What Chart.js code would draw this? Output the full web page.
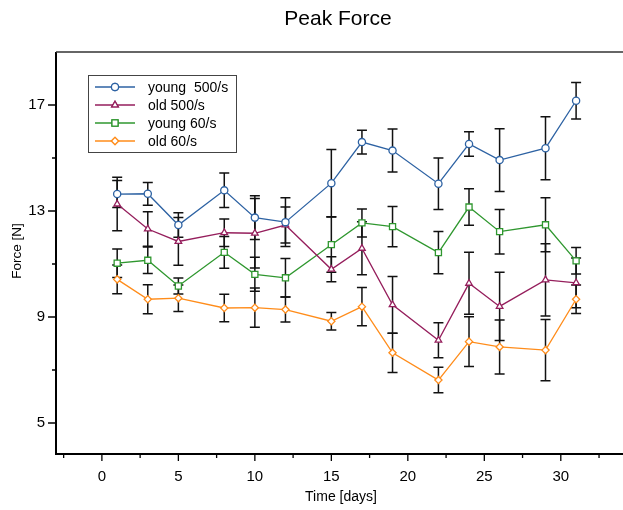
<!DOCTYPE html>
<html>
<head>
<meta charset="utf-8">
<title>Peak Force</title>
<script src="https://cdn.jsdelivr.net/npm/chart.js@4.4.1/dist/chart.umd.min.js"></script>
<style>
  html, body { margin: 0; padding: 0; background: #fff; }
  #wrap { width: 623px; height: 510px; }
</style>
</head>
<body>
<div id="wrap"><canvas id="chart" width="623" height="510"></canvas></div>
<script>
// measurement days (x values)
const days = [1, 3, 5, 8, 10, 12, 15, 17, 19, 22, 24, 26, 29, 31];

// means and error bar half-lengths
const young500    = [13.64, 13.65, 12.47, 13.78, 12.75, 12.58, 14.05, 15.60, 15.28, 14.03, 15.53, 14.92, 15.37, 17.16];
const young500Err = [0.51, 0.43, 0.46, 0.65, 0.83, 0.92, 1.27, 0.45, 0.81, 0.97, 0.46, 1.18, 1.19, 0.69];
const old500      = [13.26, 12.32, 11.85, 12.18, 12.16, 12.47, 10.80, 11.59, 9.46, 8.12, 10.27, 9.40, 10.40, 10.29];
const old500Err   = [1.01, 0.65, 0.90, 0.52, 1.31, 0.68, 0.47, 1.00, 1.07, 0.66, 1.17, 1.29, 1.36, 0.94];
const young60     = [11.03, 11.14, 10.17, 11.44, 10.61, 10.48, 11.73, 12.55, 12.41, 11.43, 13.15, 12.22, 12.48, 11.12];
const young60Err  = [0.54, 0.50, 0.30, 0.60, 0.64, 0.73, 1.04, 0.53, 0.76, 0.80, 0.69, 0.84, 1.02, 0.50];
const old60       = [10.42, 9.67, 9.71, 9.34, 9.35, 9.28, 8.84, 9.39, 7.65, 6.62, 8.07, 7.87, 7.75, 9.67];
const old60Err    = [0.54, 0.55, 0.50, 0.52, 0.74, 0.47, 0.33, 0.72, 0.74, 0.48, 0.94, 1.02, 1.16, 0.54];

const seriesNames = ['young  500/s', 'old 500/s', 'young 60/s', 'old 60/s'];

// axis ticks (minor ticks carry no label)
const xTicks = [-2.5, 0, 2.5, 5, 7.5, 10, 12.5, 15, 17.5, 20, 22.5, 25, 27.5, 30, 32.5];
const xLabels = [0, 5, 10, 15, 20, 25, 30];
const yTicks = [5, 7, 9, 11, 13, 15, 17];
const yLabels = [5, 9, 13, 17];

const FONT = "'Liberation Sans', Arial, Helvetica, sans-serif";

const series = [
  { values: young500, err: young500Err, color: '#2d62a3', style: 'circle',   radius: 3.6 },
  { values: old500,   err: old500Err,   color: '#951e5c', style: 'triangle', radius: 3.8 },
  { values: young60,  err: young60Err,  color: '#2f972f', style: 'rect',     radius: 4.3 },
  { values: old60,    err: old60Err,    color: '#ff8c1a', style: 'rectRot',  radius: 3.6 }
];

const datasets = series.map((s, i) => ({
  label: seriesNames[i],
  data: days.map((d, j) => ({ x: d, y: s.values[j] })),
  borderColor: s.color,
  borderWidth: 1.3,
  pointStyle: s.style,
  pointRadius: s.radius,
  pointBorderColor: s.color,
  pointBackgroundColor: '#fff',
  pointBorderWidth: 1.3,
  tension: 0,
  clip: false
}));

/** ---------------- error bars (behind the lines) ---------------- **/
const errorBars = {
  id: 'errorBars',
  beforeDatasetsDraw(chart) {
    const { ctx, scales: { x, y } } = chart;
    ctx.save();
    ctx.strokeStyle = '#111';
    ctx.lineWidth = 1.5;
    series.forEach((s) => {
      days.forEach((d, j) => {
        const px = x.getPixelForValue(d);
        const top = y.getPixelForValue(s.values[j] + s.err[j]);
        const bot = y.getPixelForValue(s.values[j] - s.err[j]);
        ctx.beginPath();
        ctx.moveTo(px, top); ctx.lineTo(px, bot);
        ctx.moveTo(px - 5, top); ctx.lineTo(px + 5, top);
        ctx.moveTo(px - 5, bot); ctx.lineTo(px + 5, bot);
        ctx.stroke();
      });
    });
    ctx.restore();
  }
};

/** ---------------- frame, tick marks, titles, legend ---------------- **/
const decorations = {
  id: 'decorations',
  afterDraw(chart) {
    const { ctx, chartArea: a, scales: { x, y } } = chart;
    ctx.save();

    // frame: left + bottom axis, thin top line (right side runs off the page)
    ctx.strokeStyle = '#000';
    ctx.lineWidth = 2;
    ctx.beginPath();
    ctx.moveTo(a.left, a.top); ctx.lineTo(a.left, a.bottom); ctx.lineTo(chart.width, a.bottom);
    ctx.stroke();
    ctx.strokeStyle = '#333';
    ctx.lineWidth = 1.4;
    ctx.beginPath();
    ctx.moveTo(a.left, a.top); ctx.lineTo(chart.width, a.top);
    ctx.stroke();

    // tick marks
    ctx.strokeStyle = '#000';
    ctx.lineWidth = 1.3;
    ctx.beginPath();
    x.ticks.forEach((t) => {
      const px = x.getPixelForValue(t.value);
      const len = xLabels.includes(t.value) ? 7 : 4;
      ctx.moveTo(px, a.bottom); ctx.lineTo(px, a.bottom + len);
    });
    y.ticks.forEach((t) => {
      const py = y.getPixelForValue(t.value);
      const len = yLabels.includes(t.value) ? 8 : 4;
      ctx.moveTo(a.left, py); ctx.lineTo(a.left - len, py);
    });
    ctx.stroke();

    // titles
    ctx.fillStyle = '#000';
    ctx.textAlign = 'center';
    ctx.textBaseline = 'middle';
    ctx.font = '21px ' + FONT;
    ctx.fillText('Peak Force', 338, 19);
    ctx.font = '14px ' + FONT;
    ctx.fillText('Time [days]', 341, 497);
    ctx.save();
    ctx.translate(17, 251);
    ctx.rotate(-Math.PI / 2);
    ctx.font = '13.5px ' + FONT;
    ctx.fillText('Force [N]', 0, 0);
    ctx.restore();

    // legend box
    const lx = 88, ly = 75, lw = 148, lh = 77;
    ctx.fillStyle = '#fff';
    ctx.fillRect(lx, ly, lw, lh);
    ctx.strokeStyle = '#444';
    ctx.lineWidth = 1;
    ctx.strokeRect(lx + 0.5, ly + 0.5, lw, lh);
    ctx.font = '14px ' + FONT;
    ctx.textAlign = 'left';
    series.forEach((s, i) => {
      const ry = 87 + i * 18;
      ctx.strokeStyle = s.color;
      ctx.lineWidth = 1.3;
      ctx.beginPath();
      ctx.moveTo(95, ry); ctx.lineTo(135, ry);
      ctx.stroke();
      ctx.fillStyle = '#fff';
      Chart.helpers.drawPoint(ctx, { pointStyle: s.style, radius: s.radius, borderWidth: 1.3 }, 115, ry);
      ctx.fill();
      ctx.stroke();
      ctx.fillStyle = '#000';
      ctx.fillText(seriesNames[i], 148, ry + 1);
    });

    ctx.restore();
  }
};

const tickFont = { family: FONT, size: 15 };

new Chart(document.getElementById('chart'), {
  type: 'line',
  data: { datasets },
  options: {
    responsive: false,
    animation: false,
    layout: { padding: { top: 52, right: 0, bottom: 0, left: 0 } },
    plugins: { legend: { display: false }, title: { display: false }, tooltip: { enabled: false } },
    scales: {
      x: {
        type: 'linear',
        min: -3,
        max: 33.7,
        afterBuildTicks: (s) => { s.ticks = xTicks.map((v) => ({ value: v })); },
        afterFit: (s) => { s.height = 56; s.paddingLeft = 0; s.paddingRight = 0; },
        grid: { display: false, drawTicks: false },
        border: { display: false },
        ticks: {
          autoSkip: false,
          maxRotation: 0,
          padding: 14,
          color: '#000',
          font: tickFont,
          callback: (v) => (xLabels.includes(v) ? String(v) : '')
        }
      },
      y: {
        type: 'linear',
        min: 3.83,
        max: 19,
        afterBuildTicks: (s) => { s.ticks = yTicks.map((v) => ({ value: v })); },
        afterFit: (s) => { s.width = 56; s.paddingTop = 0; s.paddingBottom = 0; },
        grid: { display: false, drawTicks: false },
        border: { display: false },
        ticks: {
          autoSkip: false,
          padding: 11,
          color: '#000',
          font: tickFont,
          callback: (v) => (yLabels.includes(v) ? String(v) : '')
        }
      }
    }
  },
  plugins: [errorBars, decorations]
});
</script>
</body>
</html>
